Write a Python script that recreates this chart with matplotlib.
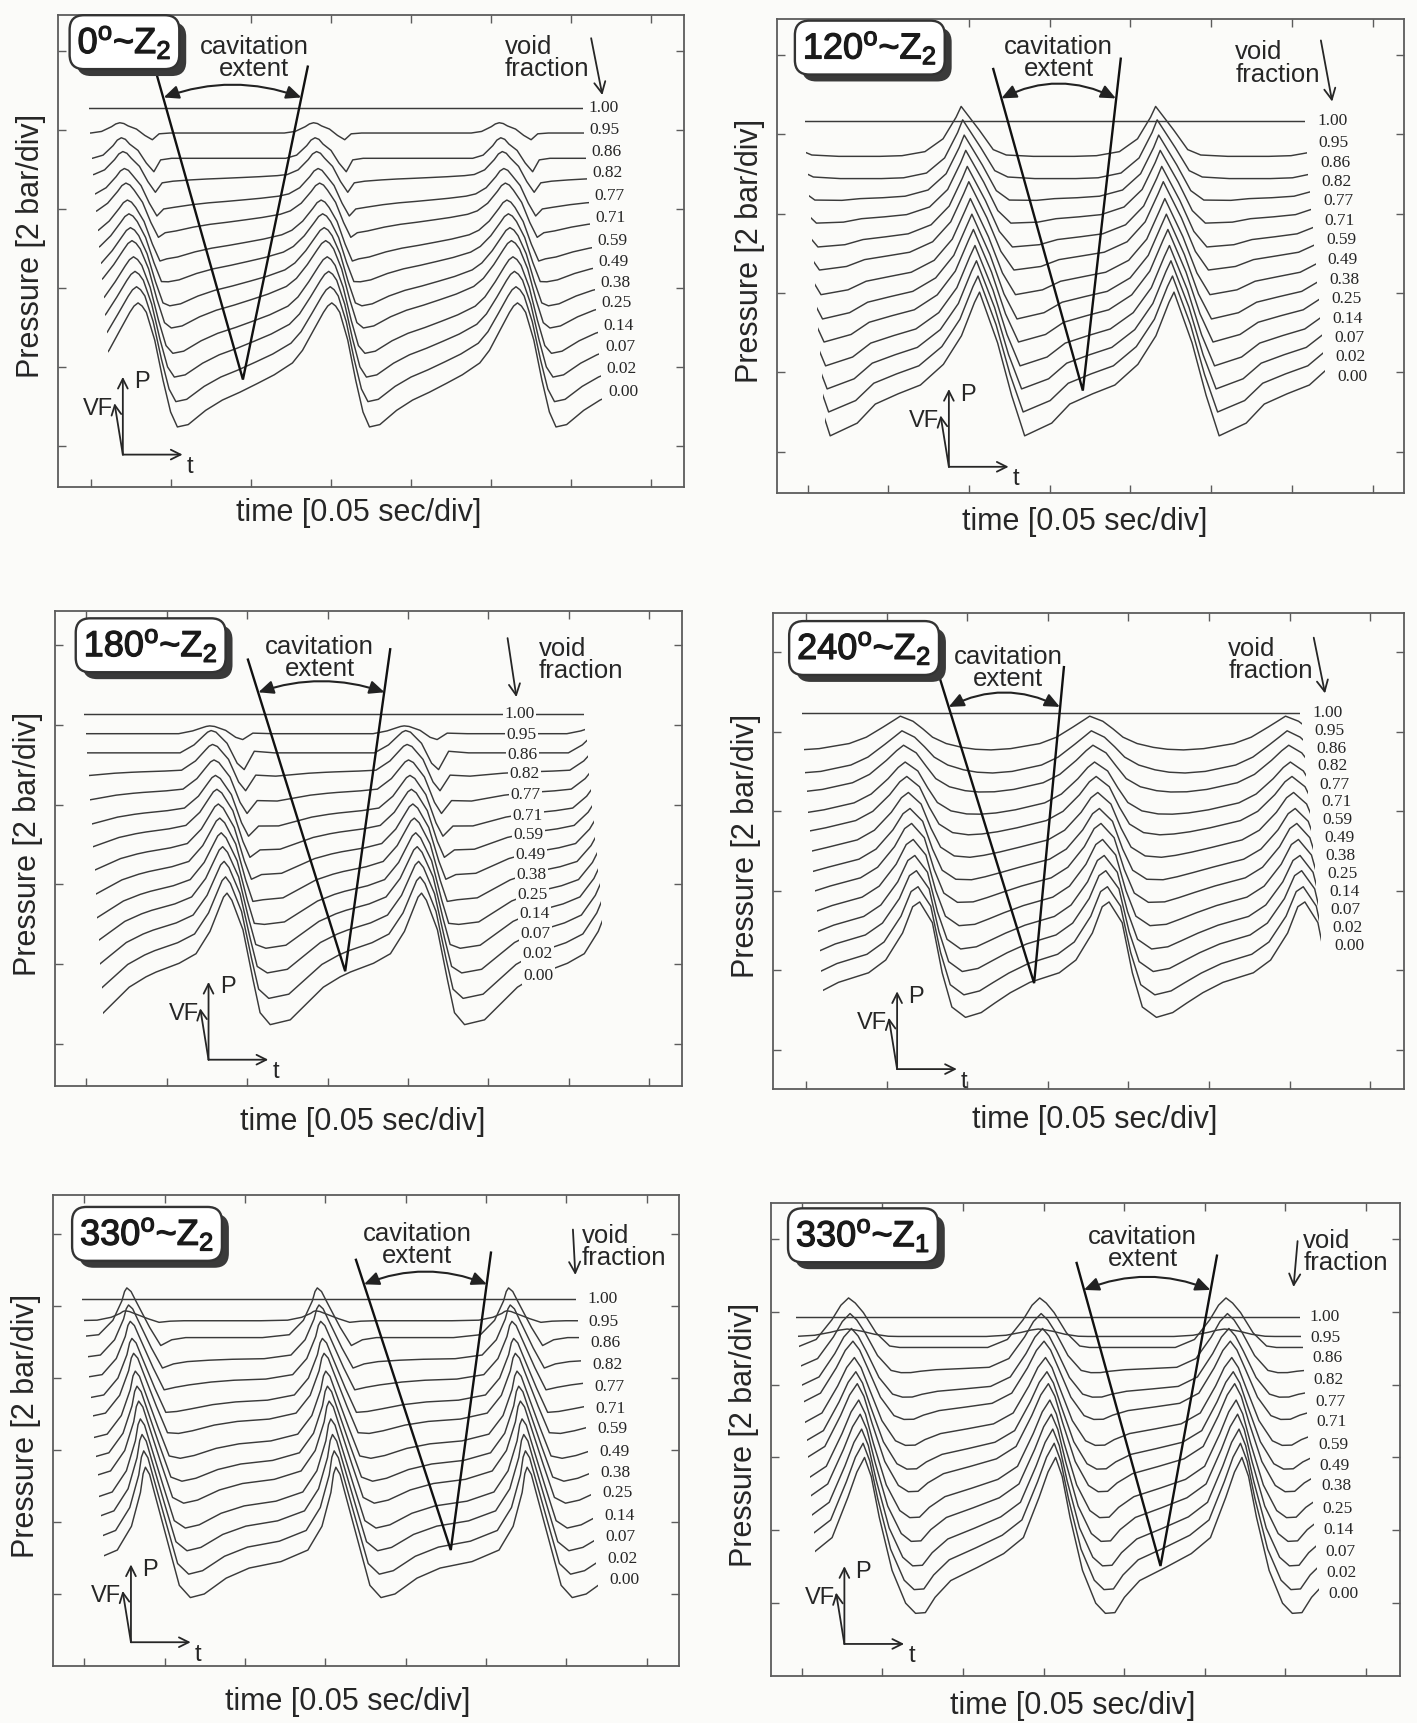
import matplotlib
matplotlib.use("Agg")
import numpy as np
import matplotlib.pyplot as plt
import matplotlib.patheffects as pe
import matplotlib.transforms as mtransforms
from matplotlib.patches import Rectangle

plt.rcParams["font.family"] = ["Liberation Sans", "DejaVu Sans"]
plt.rcParams["mathtext.fontset"] = "custom"
plt.rcParams["mathtext.rm"] = "Liberation Sans"
plt.rcParams["mathtext.it"] = "Liberation Sans:italic"
plt.rcParams["mathtext.bf"] = "Liberation Sans:bold"

W, H = 1417, 1723
BG = "#fbfbf9"
INK = "#262626"
TRACE = "#3a3a3a"
FRAME = "#5c5c5c"

# void fraction of each trace, top trace first
VOID_FRACTION = ["1.00", "0.95", "0.86", "0.82", "0.77", "0.71", "0.59",
                 "0.49", "0.38", "0.25", "0.14", "0.07", "0.02", "0.00"]
# share of the high-void wave shape in each trace (rest is the liquid shape)
MIX = [0.0, 1.0, 1.0, 0.91, 0.82, 0.73, 0.64, 0.55, 0.45, 0.36, 0.27, 0.18, 0.09, 0.0]

# ---- 0 deg ~ Z2 ------------------------------------------------------------
P1_PEAKS = [-1.81, 0.59, 3.01, 5.33, 7.70]
P1_PHASE = [0, 0.021, 0.043, 0.086, 0.129, 0.168, 0.203, 0.259, 0.349, 0.435, 0.526,
            0.616, 0.703, 0.797, 0.849, 0.905, 0.957, 0.979, 1.0]
P1_LIQUID = [1.13, 1.09, 1.01, 0.66, 0.15, -0.25, -0.44, -0.41, -0.23, -0.10, 0.00,
             0.11, 0.22, 0.37, 0.53, 0.78, 1.01, 1.09, 1.13]
P1_BUBBLY = [0.18, 0.16, 0.10, 0.02, -0.14, -0.25, -0.10, -0.08, -0.08, -0.08, -0.08,
             -0.08, -0.08, -0.08, -0.08, -0.04, 0.08, 0.15, 0.18]
P1_LEVELS = [4.28, 4.00, 3.72, 3.46, 3.16, 2.89, 2.59, 2.33, 2.06, 1.81, 1.52, 1.25, 0.97, 0.68]
P1_AMP = [0.0, 0.5] + [1.0] * 12

# ---- 120 deg ~ Z2 ----------------------------------------------------------
P2_PEAKS = [-0.28, 2.13, 4.54, 6.95]
P2_PHASE = [0, 0.093, 0.165, 0.232, 0.371, 0.464, 0.582, 0.696, 0.814, 0.907, 0.974, 1.0]
P2_LIQUID = [1.07, 0.43, -0.23, -0.74, -0.58, -0.34, -0.21, -0.10, 0.16, 0.52, 0.94, 1.07]
P2_BUBBLY = [0.54, 0.19, -0.10, -0.18, -0.20, -0.20, -0.20, -0.19, -0.13, 0.06, 0.38, 0.54]
P2_LEVELS = [4.16, 3.89, 3.64, 3.40, 3.16, 2.91, 2.67, 2.41, 2.16, 1.92, 1.67, 1.43, 1.19, 0.94]
P2_AMP = [0.0, 0.85] + [1.0] * 12

# ---- 180 deg ~ Z2 ----------------------------------------------------------
P3_PEAKS = [-0.66, 1.75, 4.17, 6.58]
P3_PHASE = [0, 0.025, 0.082, 0.134, 0.170, 0.222, 0.325, 0.412, 0.495, 0.582, 0.634,
            0.753, 0.840, 0.912, 0.964, 0.982, 1.0]
P3_LIQUID = [1.04, 0.95, 0.58, -0.05, -0.46, -0.61, -0.55, -0.34, -0.14, -0.01, 0.05,
             0.16, 0.28, 0.56, 0.88, 0.99, 1.04]
P3_BUBBLY = [0.31, 0.29, 0.15, -0.10, -0.18, 0.05, 0.03, 0.03, 0.03, 0.03, 0.03,
             0.03, 0.03, 0.13, 0.25, 0.29, 0.31]
P3_LEVELS = [4.14, 3.88, 3.62, 3.38, 3.12, 2.86, 2.62, 2.37, 2.12, 1.87, 1.63, 1.38, 1.12, 0.85]
P3_AMP = [0.0, 0.35] + [1.0] * 12

# ---- 240 deg ~ Z2 ----------------------------------------------------------
P4_PEAKS = [-1.00, 1.41, 3.76, 6.19, 8.60]
P4_PHASE = [0, 0.067, 0.119, 0.170, 0.242, 0.325, 0.397, 0.479, 0.582, 0.737,
            0.825, 0.912, 0.964, 1.0]
P4_LIQUID = [0.55, 0.29, -0.34, -0.77, -0.90, -0.84, -0.72, -0.59, -0.46, -0.34,
             -0.18, 0.16, 0.49, 0.55]
P4_BUBBLY = [0.23, 0.15, 0.03, -0.10, -0.20, -0.26, -0.29, -0.30, -0.28, -0.20,
             -0.10, 0.06, 0.16, 0.23]
P4_LEVELS = [4.23, 4.01, 3.78, 3.57, 3.33, 3.12, 2.89, 2.66, 2.44, 2.21, 1.98, 1.76, 1.53, 1.31]
P4_AMP = [0.0, 0.8] + [1.0] * 12

# ---- 330 deg ~ Z2 ----------------------------------------------------------
P5_PEAKS = [-1.62, 0.76, 3.13, 5.51, 7.89]
P5_PHASE = [0, 0.022, 0.047, 0.120, 0.178, 0.236, 0.309, 0.424, 0.545, 0.712, 0.853,
            0.927, 0.974, 0.988, 1.0]
P5_LIQUID = [1.57, 1.47, 1.22, 0.50, -0.07, -0.24, -0.19, 0.03, 0.17, 0.26, 0.42,
             0.75, 1.22, 1.48, 1.57]
P5_BUBBLY = [0.76, 0.71, 0.58, 0.21, -0.04, 0.04, 0.07, 0.07, 0.07, 0.07, 0.11,
             0.31, 0.58, 0.71, 0.76]
P5_LEVELS = [4.10, 3.78, 3.49, 3.18, 2.88, 2.57, 2.29, 1.97, 1.68, 1.40, 1.08, 0.79, 0.49, 0.19]
P5_AMP = [0.0, 0.2] + [1.0] * 12

# ---- 330 deg ~ Z1 ----------------------------------------------------------
P6_PEAKS = [-1.60, 0.78, 3.15, 5.46, 7.80]
P6_PHASE = [0, 0.035, 0.077, 0.144, 0.215, 0.267, 0.318, 0.369, 0.451, 0.590, 0.728,
            0.831, 0.913, 0.960, 1.0]
P6_LIQUID = [1.88, 1.62, 1.06, 0.33, -0.12, -0.26, -0.25, -0.04, 0.19, 0.37, 0.56,
             0.78, 1.33, 1.68, 1.88]
P6_BUBBLY = [0.82, 0.75, 0.62, 0.34, 0.16, 0.14, 0.14, 0.14, 0.14, 0.14, 0.14,
             0.25, 0.52, 0.72, 0.82]
P6_LEVELS = [3.93, 3.64, 3.37, 3.06, 2.76, 2.49, 2.17, 1.88, 1.61, 1.29, 1.00, 0.70, 0.41, 0.12]
P6_AMP = [0.0, 0.15] + [1.0] * 12


def deg_title(angle, z):
    return angle + r"$^{\rm o}$~Z$_{\rm " + z + "}$"


PANELS = [
    dict(title=deg_title("0", "2"), box=(58, 14.5, 684, 487), xlim=(-0.41, 7.41), ylim=(-0.52, 5.46),
         peaks=P1_PEAKS, phase=P1_PHASE, liquid=P1_LIQUID, bubbly=P1_BUBBLY,
         levels=P1_LEVELS, amp=P1_AMP, t0=0.22, t1=6.39, skew=-0.019, label_x=6.46, label_box=False,
         cav=[(0.82, 4.71), (1.90, 0.84), (2.71, 4.80)], arc=[(0.91, 4.41), (2.63, 4.41)], rad=-0.18,
         cav_text=(2.04, 4.91), title_xy=(0.42, 5.11), void_text=(5.17, 4.91),
         void_arrow=[(6.25, 5.16), (6.39, 4.44)], glyph=(0.40, -0.11), xlab=(0.48, 26)),
    dict(title=deg_title("120", "2"), box=(777, 19, 1404, 493), xlim=(-0.38, 7.39), ylim=(-0.52, 5.45),
         peaks=P2_PEAKS, phase=P2_PHASE, liquid=P2_LIQUID, bubbly=P2_BUBBLY,
         levels=P2_LEVELS, amp=P2_AMP, t0=0.21, t1=6.41, skew=-0.019, label_x=6.56, label_box=False,
         cav=[(2.30, 4.82), (3.41, 0.77), (3.88, 4.95)], arc=[(2.40, 4.45), (3.82, 4.45)], rad=-0.25,
         cav_text=(3.11, 4.96), title_xy=(0.77, 5.09), void_text=(5.30, 4.89),
         void_arrow=[(6.36, 5.18), (6.50, 4.41)], glyph=(1.75, -0.19), xlab=(0.49, 29)),
    dict(title=deg_title("180", "2"), box=(55, 611, 682, 1086), xlim=(-0.39, 7.41), ylim=(-0.53, 5.43),
         peaks=P3_PEAKS, phase=P3_PHASE, liquid=P3_LIQUID, bubbly=P3_BUBBLY,
         levels=P3_LEVELS, amp=P3_AMP, t0=0.21, t1=6.42, skew=-0.018, label_x=5.44, label_box=True,
         cav=[(2.01, 4.82), (3.22, 0.91), (3.78, 4.95)], arc=[(2.14, 4.41), (3.71, 4.41)], rad=-0.17,
         cav_text=(2.90, 4.84), title_xy=(0.80, 5.00), void_text=(5.63, 4.82),
         void_arrow=[(5.24, 5.09), (5.35, 4.35)], glyph=(1.52, -0.20), xlab=(0.49, 36)),
    dict(title=deg_title("240", "2"), box=(773, 613, 1404, 1089), xlim=(-0.41, 7.42), ylim=(-0.49, 5.49),
         peaks=P4_PEAKS, phase=P4_PHASE, liquid=P4_LIQUID, bubbly=P4_BUBBLY,
         levels=P4_LEVELS, amp=P4_AMP, t0=0.21, t1=6.39, skew=-0.020, label_x=6.55, label_box=False,
         cav=[(1.66, 4.67), (2.83, 0.84), (3.20, 4.81)], arc=[(1.77, 4.31), (3.15, 4.31)], rad=-0.25,
         cav_text=(2.51, 4.80), title_xy=(0.72, 5.05), void_text=(5.24, 4.90),
         void_arrow=[(6.30, 5.18), (6.44, 4.48)], glyph=(1.13, -0.24), xlab=(0.51, 31)),
    dict(title=deg_title("330", "2"), box=(53, 1195, 679, 1666), xlim=(-0.39, 7.40), ylim=(-1.00, 5.54),
         peaks=P5_PEAKS, phase=P5_PHASE, liquid=P5_LIQUID, bubbly=P5_BUBBLY,
         levels=P5_LEVELS, amp=P5_AMP, t0=0.25, t1=6.39, skew=-0.021, label_x=6.53, label_box=False,
         cav=[(3.38, 4.64), (4.56, 0.61), (5.06, 4.74)], arc=[(3.48, 4.30), (5.01, 4.30)], rad=-0.20,
         cav_text=(4.14, 4.85), title_xy=(0.78, 5.00), void_text=(6.19, 4.82),
         void_arrow=[(6.08, 5.06), (6.11, 4.43)], glyph=(0.58, -0.67), xlab=(0.47, 36)),
    dict(title=deg_title("330", "1"), box=(771, 1202.5, 1400, 1676), xlim=(-0.38, 7.42), ylim=(-1.00, 5.50),
         peaks=P6_PEAKS, phase=P6_PHASE, liquid=P6_LIQUID, bubbly=P6_BUBBLY,
         levels=P6_LEVELS, amp=P6_AMP, t0=0.17, t1=6.41, skew=-0.018, label_x=6.53, label_box=False,
         cav=[(3.41, 4.67), (4.45, 0.51), (5.15, 4.77)], arc=[(3.50, 4.30), (5.07, 4.30)], rad=-0.20,
         cav_text=(4.23, 4.88), title_xy=(0.76, 5.05), void_text=(6.22, 4.82),
         void_arrow=[(6.15, 4.97), (6.10, 4.34)], glyph=(0.53, -0.56), xlab=(0.48, 30)),
]


def repeat_cycles(peaks, phase, values):
    xs, ys = [], []
    for a, b in zip(peaks[:-1], peaks[1:]):
        xs.extend(a + (b - a) * np.asarray(phase[:-1]))
        ys.extend(values[:-1])
    xs.append(peaks[-1])
    ys.append(values[-1])
    return np.array(xs), np.array(ys)


def draw_glyph(ax, origin):
    arrow = dict(arrowstyle="<-,head_length=0.5,head_width=0.25", color=INK, lw=1.3,
                 shrinkA=0, shrinkB=0, mutation_scale=14)
    for dx, dy in [(0, 56), (43, 0), (-6, 37)]:
        ax.annotate("", xy=origin, xytext=(dx, dy), textcoords="offset points", arrowprops=arrow)
    ax.annotate("P", xy=origin, xytext=(8, 52), textcoords="offset points",
                fontsize=17, ha="left", va="center", color=INK)
    ax.annotate("t", xy=origin, xytext=(46, -9), textcoords="offset points",
                fontsize=17, ha="left", va="center", color=INK)
    ax.annotate("VF", xy=origin, xytext=(-7, 33), textcoords="offset points",
                fontsize=17, ha="right", va="center", color=INK)


def draw_panel(fig, p):
    left, top, right, bottom = p["box"]
    ax = fig.add_axes([left / W, 1 - bottom / H, (right - left) / W, (bottom - top) / H])
    ax.set_facecolor(BG)
    ax.set_xlim(*p["xlim"])
    ax.set_ylim(*p["ylim"])
    ax.set_xticks(range(8))
    ax.set_yticks(range(6))
    ax.tick_params(direction="in", length=6, width=1.0, color=FRAME, top=True, right=True,
                   labelbottom=False, labelleft=False)
    for s in ax.spines.values():
        s.set_color(FRAME)
        s.set_linewidth(1.3)

    t_knots, liquid = repeat_cycles(p["peaks"], p["phase"], p["liquid"])
    _, bubbly = repeat_cycles(p["peaks"], p["phase"], p["bubbly"])
    n = len(VOID_FRACTION)
    y_lo, y_hi = p["ylim"]
    for i, vf in enumerate(VOID_FRACTION):
        shift = p["skew"] * (n - 1 - i)
        y = p["levels"][i] + p["amp"][i] * (MIX[i] * bubbly + (1 - MIX[i]) * liquid)
        line, = ax.plot(t_knots + shift, y, color=TRACE, lw=1.05, zorder=2,
                        solid_joinstyle="round")
        clip = Rectangle((p["t0"] + shift, y_lo), p["t1"] - p["t0"], y_hi - y_lo,
                         transform=ax.transData)
        line.set_clip_path(clip)
        box = dict(facecolor=BG, edgecolor="none", pad=1.0) if p["label_box"] else None
        ax.text(p["label_x"] + shift, p["levels"][i], vf, family=["Liberation Serif", "DejaVu Serif"],
                fontsize=12.5, ha="left", va="center", color=INK, zorder=4, bbox=box)

    cx, cy = zip(*p["cav"])
    ax.plot(cx, cy, color="#111111", lw=1.7, zorder=3, solid_joinstyle="miter")
    ax.annotate("", xy=p["arc"][1], xytext=p["arc"][0],
                arrowprops=dict(arrowstyle="<|-|>,head_length=0.45,head_width=0.2",
                                connectionstyle="arc3,rad=%g" % p["rad"], color="#222222",
                                lw=1.5, shrinkA=0, shrinkB=0, mutation_scale=20), zorder=3)
    ax.text(*p["cav_text"], "cavitation\nextent", fontsize=18.5, ha="center", va="center",
            linespacing=0.9, color=INK, zorder=4)
    ax.text(*p["void_text"], "void\nfraction", fontsize=18.5, ha="left", va="center",
            linespacing=0.9, color=INK, zorder=4)
    ax.annotate("", xy=p["void_arrow"][1], xytext=p["void_arrow"][0],
                arrowprops=dict(arrowstyle="->,head_length=0.5,head_width=0.25", color=INK,
                                lw=1.3, shrinkA=0, shrinkB=0, mutation_scale=16))

    title = ax.text(*p["title_xy"], p["title"], fontsize=26, ha="center", va="center", color="#1a1a1a",
                    zorder=5, bbox=dict(boxstyle="round,pad=0.22,rounding_size=0.4",
                                        facecolor="white", edgecolor="#333333", lw=1.7))
    title.set_path_effects([pe.withStroke(linewidth=0.9, foreground="#1a1a1a")])
    title.get_bbox_patch().set_path_effects([
        pe.SimplePatchShadow(offset=(5, -5), shadow_rgbFace="#3a3a3a", alpha=1.0), pe.Normal()])

    draw_glyph(ax, p["glyph"])

    ylab = mtransforms.offset_copy(ax.transAxes, fig=fig, x=-27 * 0.72, y=0, units="points")
    ax.text(0, 0.51, "Pressure [2 bar/div]", transform=ylab, rotation=90, fontsize=22,
            ha="center", va="center", color=INK)
    xlab = mtransforms.offset_copy(ax.transAxes, fig=fig, x=0, y=-p["xlab"][1] * 0.72, units="points")
    ax.text(p["xlab"][0], 0, "time [0.05 sec/div]", transform=xlab, fontsize=22,
            ha="center", va="center", color=INK)


fig = plt.figure(figsize=(W / 100, H / 100), dpi=100, facecolor=BG)
for panel in PANELS:
    draw_panel(fig, panel)
fig.savefig("out.png", dpi=100, facecolor=BG)
